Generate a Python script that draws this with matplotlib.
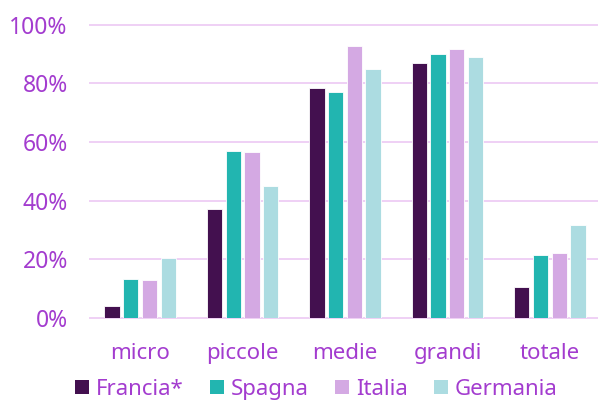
import matplotlib
matplotlib.use("Agg")
import matplotlib.pyplot as plt
import numpy as np

categories = ["micro", "piccole", "medie", "grandi", "totale"]
series_names = ["Francia*", "Spagna", "Italia", "Germania"]
francia = [4.1, 37.0, 78.4, 86.9, 10.4]
spagna = [13.1, 57.0, 77.1, 89.9, 21.3]
italia = [12.9, 56.7, 92.7, 91.7, 22.0]
germania = [20.3, 45.0, 85.0, 89.1, 31.7]
yticks = [0, 20, 40, 60, 80, 100]
ytick_labels = ["0%", "20%", "40%", "60%", "80%", "100%"]

colors = ["#43104f", "#22b5b0", "#d4a9e3", "#acdce1"]
text_color = "#a33ccf"
grid_color = "#efd0f5"

plt.rcParams['font.family'] = ['Noto Sans', 'DejaVu Sans']

fig = plt.figure(figsize=(5.98, 4.01), dpi=100)
ax = fig.add_axes([0.1505, 0.2077, 0.8495, 0.953 - 0.2077])

x = np.arange(len(categories))
pitch = 0.183
width = 0.15
data = [francia, spagna, italia, germania]
for i, (name, vals, c) in enumerate(zip(series_names, data, colors)):
    ax.bar(x + (i - 1.5) * pitch, vals, width=width, color=c, label=name,
           edgecolor="white", linewidth=0.6, zorder=3)

ax.set_xlim(-0.49, 4.47)
ax.set_ylim(0, 102)
ax.set_yticks(yticks)
ax.set_yticklabels(ytick_labels)
ax.set_xticks(x)
ax.set_xticklabels(categories)
for y in yticks:
    ax.axhline(y, color=grid_color, linewidth=1.4, zorder=1, clip_on=False)
for s in ax.spines.values():
    s.set_visible(False)
ax.tick_params(axis="y", length=0, pad=16, labelsize=16.5, labelcolor=text_color)
ax.tick_params(axis="x", length=0, pad=18, labelsize=16, labelcolor=text_color)

leg = fig.legend(loc="center", bbox_to_anchor=(0.529, 0.029), ncol=4, frameon=False,
                 handlelength=0.62, handleheight=0.62, handletextpad=0.3,
                 columnspacing=1.2, fontsize=16, borderaxespad=0, borderpad=0)
for t in leg.get_texts():
    t.set_color(text_color)
for h in leg.legend_handles:
    h.set_edgecolor("none")

fig.savefig("out.png", dpi=100)
